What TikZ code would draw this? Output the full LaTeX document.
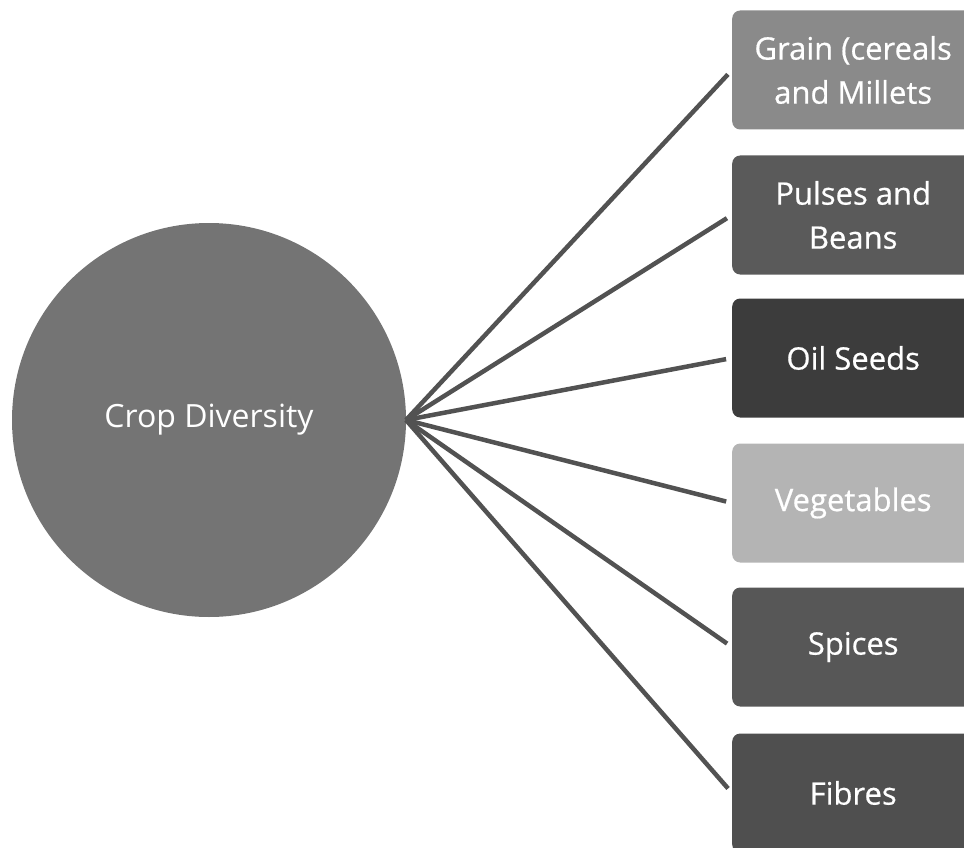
\documentclass[tikz,border=0pt]{standalone}
\usepackage{fontspec}
\setmainfont{Open Sans}
\newfontfamily\boxfont[FakeBold=0.6]{Open Sans}
\begin{document}
\begin{tikzpicture}[x=1pt,y=-1pt,
  catbox/.style={rounded corners=8pt, minimum width=242pt, minimum height=119pt, inner sep=0pt,
    text=white, font=\boxfont\fontsize{31}{44}\selectfont, align=center, anchor=west},
  spoke/.style={draw=black!68, line width=4.5pt, shorten >=6pt}]
\useasboundingbox (0,0) rectangle (964,848);
\clip (0,0) rectangle (964,848);
\definecolor{cA}{HTML}{8A8A8A}
\definecolor{cB}{HTML}{5A5A5A}
\definecolor{cC}{HTML}{3C3C3C}
\definecolor{cD}{HTML}{B4B4B4}
\definecolor{cE}{HTML}{575757}
\definecolor{cF}{HTML}{4F4F4F}
\definecolor{cCirc}{HTML}{747474}
\node[circle, fill=cCirc, minimum size=394pt, inner sep=0pt, text=white, font=\fontsize{32}{36}\selectfont] (c) at (209,420) {Crop Diversity};
\coordinate (hub) at (406,420);
\node[catbox, fill=cA] (b1) at (732,70) {Grain (cereals\\and Millets};
\node[catbox, fill=cB] (b2) at (732,215) {Pulses and\\Beans};
\node[catbox, fill=cC] (b3) at (732,358) {Oil Seeds};
\node[catbox, fill=cD] (b4) at (732,503) {Vegetables};
\node[catbox, fill=cE] (b5) at (732,647) {Spices};
\node[catbox, fill=cF] (b6) at (732,793) {Fibres};
\foreach \b in {b1,b2,b3,b4,b5,b6} \draw[spoke] (hub) -- (\b.west);
\end{tikzpicture}
\end{document}
